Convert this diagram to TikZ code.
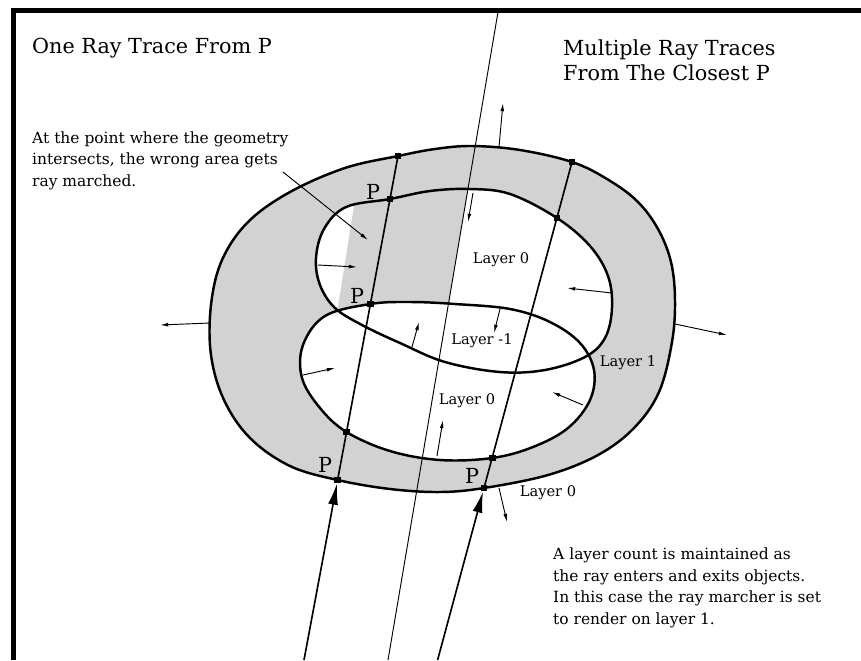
\documentclass[tikz,border=0pt]{standalone}
\usepackage{fontspec}
\setmainfont{DejaVu Serif}
\usetikzlibrary{arrows.meta}

% the three blobs, in pixel units
\newcommand{\outerblob}{plot[smooth cycle, tension=0.6] coordinates {
  (398,156) (435,149) (472,146) (520,150) (572,162) (607,179) (637,201)
  (658,229) (671,262) (675,300) (672,342) (659,392) (634,428) (598,455)
  (548,475) (484,488) (440,492) (390,489) (337.6,480) (290,466) (250,438)
  (224,400) (211,355) (211,305) (222,260) (248,222) (290,192) (345,168)}}
\newcommand{\upperblob}{plot[smooth cycle, tension=0.6] coordinates {
  (390,199) (430,191) (470,189) (510,194) (557,218) (590,246)
  (608,276) (612,308) (605,338) (585,357) (545,370) (500,372)
  (445,362) (400,343) (362,325) (335,308) (320,285) (316,258)
  (324,229) (346,207)}}
\newcommand{\lowerblob}{plot[smooth cycle, tension=0.6] coordinates {
  (370.4,304) (410,302) (455,304) (510,309) (550,322) (580,343)
  (594,370) (590,400) (568,428) (533,447) (492.1,458) (440,460)
  (390,451) (346.5,432) (320,408) (302,378) (303,345) (325,316)}}

\begin{document}
\begin{tikzpicture}[x=0.03cm, y=-0.03cm,
    ring/.style = {fill=gray!35},
    band/.style = {line width=2.1pt},
    ray/.style = {line width=1.4pt},
    thinray/.style = {line width=0.8pt},
    nrm/.style = {line width=0.8pt, -{Latex[length=7pt,width=3.2pt]}},
    hit/.style = {fill=black, inner sep=0pt, minimum size=5.8pt},
    big/.style = {font=\fontsize{17.7}{21.3}\selectfont, inner sep=0pt},
    lbl/.style = {font=\fontsize{12.5}{18.35}\selectfont, inner sep=0pt},
    note/.style = {font=\fontsize{13.2}{18.35}\selectfont, inner sep=0pt, align=left, anchor=base west}
    ]
    \useasboundingbox (0,0) rectangle (861,660);

    % frame
    \draw[line width=4.3pt] (13.5,660) -- (13.5,10.5) -- (861,10.5);

    % shading
    \fill[ring] \outerblob;
    \fill[white] \upperblob;
    \begin{scope}
        \clip \upperblob;
        \fill[ring] (358.8,175) -- (470.4,175) -- (445.0,325) -- (335.2,325) -- cycle;
    \end{scope}
    \fill[white] \lowerblob;

    \draw[band] \outerblob;
    \draw[band] \upperblob;
    \draw[band] \lowerblob;

    % hit points
    \node[hit] (l0) at (337.6,480) {};
    \node[hit] (l1) at (346.5,432) {};
    \node[hit] (l2) at (370.4,304) {};
    \node[hit] (l3) at (390,199) {};
    \node[hit] (l4) at (398,156) {};
    \node[hit] (r0) at (484,488) {};
    \node[hit] (r1) at (492.1,458) {};
    \node[hit] (r2) at (556.9,218) {};
    \node[hit] (r3) at (572,162) {};

    \coordinate (lsrc) at (304,660);
    \coordinate (rsrc) at (437.6,660);
    \coordinate (ttop) at (498,12);
    \coordinate (tbot) at (388,660);

    % rays
    \draw[thinray] (ttop) -- (tbot);
    \draw[ray, -{Latex[length=18pt,width=8.5pt]}] (lsrc) -- (l0);
    \draw[ray] (l0.center) -- (l4.center);
    \draw[ray, -{Latex[length=18pt,width=8.5pt]}] (rsrc) -- (r0);
    \draw[ray] (r0.center) -- (r3.center);

    % normals
    \draw[nrm] (499,147) -- (503,103);
    \draw[nrm] (473,193) -- (468,222);
    \draw[nrm] (210,323) -- (160,325);
    \draw[nrm] (675,324) -- (727,335);
    \draw[nrm] (318,265) -- (357,267);
    \draw[nrm] (612,293) -- (567,288);
    \draw[nrm] (412,347) -- (419,322);
    \draw[nrm] (500,309) -- (494,333);
    \draw[nrm] (303,375) -- (335,368);
    \draw[nrm] (583,405) -- (552,392);
    \draw[nrm] (437,456) -- (443,420);
    \draw[nrm] (499,488) -- (507,522);

    % labels
    \node[big, anchor=base west] (title1) at (32,53) {One Ray Trace From P};
    \node[big, anchor=base west, align=left] (title2) at (563,80) {Multiple Ray Traces\\From The Closest P};
    \node[note] (remark) at (32,186) {At the point where the geometry\\intersects, the wrong area gets\\ray marched.};
    \coordinate (wrong) at (368,240);
    \draw[nrm] (283,172) -- (wrong);
    \node[note] (count) at (553,624) {A layer count is maintained as\\the ray enters and exits objects.\\In this case the ray marcher is set\\to render on layer 1.};

    \node[lbl] (lay0a) at (501,260) {Layer 0};
    \node[lbl] (laym1) at (482,341) {Layer -1};
    \node[lbl] (lay1) at (628,363) {Layer 1};
    \node[lbl] (lay0b) at (467,401) {Layer 0};
    \node[lbl] (lay0c) at (548,493) {Layer 0};

    \node[big] (p1) at (373,192) {P};
    \node[big] (p2) at (357,296) {P};
    \node[big] (p3) at (325,465) {P};
    \node[big] (p4) at (472,476) {P};
\end{tikzpicture}
\end{document}
